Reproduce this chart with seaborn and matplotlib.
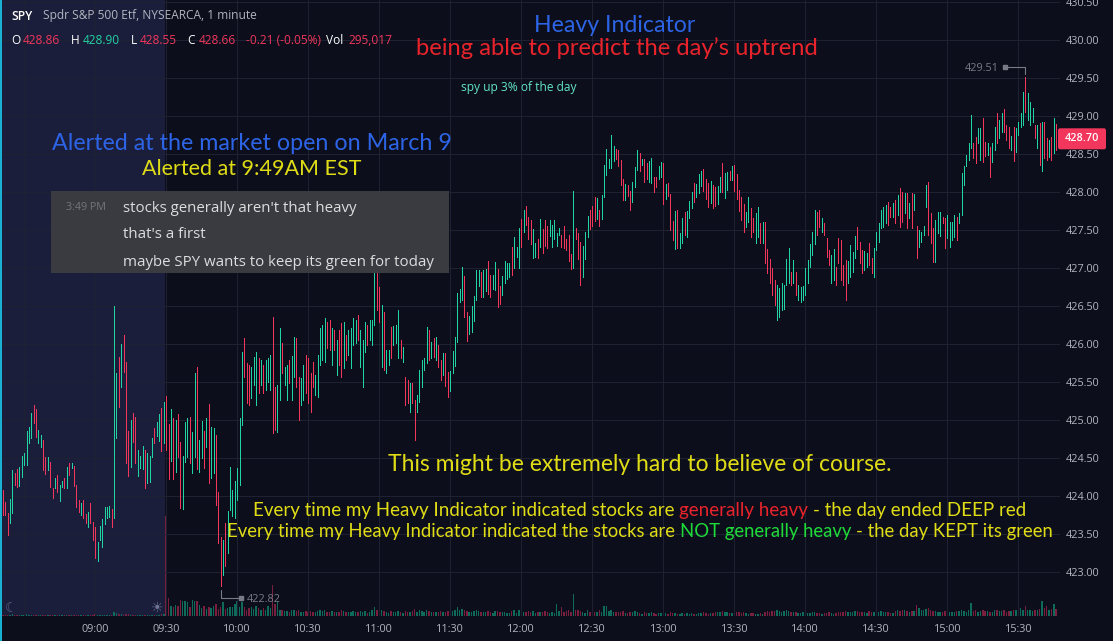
import numpy as np
import pandas as pd
import matplotlib
matplotlib.use("Agg")
import matplotlib.pyplot as plt
import seaborn as sns
from matplotlib.lines import Line2D
from matplotlib.patches import Rectangle, FancyBboxPatch
from matplotlib.transforms import IdentityTransform

# SPY 1 minute candles, one per minute starting 08:21
opens = [
    424.06, 423.90, 423.76, 423.67, 423.81, 424.28, 424.34, 424.16, 424.28, 424.44,
    424.44, 424.73, 424.79, 425.18, 425.12, 424.73, 424.67, 424.72, 424.49, 424.37,
    424.43, 424.09, 424.14, 424.26, 423.96, 424.14, 424.22, 424.14, 424.41, 424.38,
    424.37, 424.12, 423.93, 423.78, 423.93, 423.74, 423.62, 423.89, 423.64, 423.57,
    423.17, 423.45, 423.36, 423.66, 423.74, 423.75, 423.81, 423.76, 424.80, 425.80,
    425.47, 426.09, 425.72, 424.83, 424.42, 425.06, 425.01, 424.29, 424.39, 424.39,
    424.58, 424.20, 424.21, 424.54, 424.87, 424.82, 424.75, 425.13, 424.74, 425.29,
    424.92, 424.50, 425.00, 424.36, 425.05, 424.68, 423.87, 424.48, 424.55, 425.01,
    424.34, 424.55, 425.66, 424.35, 424.53, 424.83, 424.67, 425.17, 424.28, 424.34,
    424.77, 424.02, 423.43, 423.00, 423.61, 423.29, 423.86, 423.77, 423.75, 423.99,
    424.18, 424.97, 426.05, 425.72, 425.69, 425.32, 425.49, 425.24, 425.79, 425.49,
    425.69, 425.42, 425.53, 425.42, 426.30, 425.40, 424.88, 425.30, 425.98, 425.49,
    425.30, 425.76, 425.30, 425.61, 426.05, 425.54, 425.23, 425.30, 425.83, 425.79,
    425.59, 425.73, 425.36, 425.34, 425.76, 425.82, 425.80, 426.26, 426.29, 425.76,
    426.15, 425.63, 426.15, 426.25, 425.72, 426.09, 425.89, 425.72, 426.02, 426.04,
    426.35, 425.74, 425.47, 425.92, 426.22, 426.08, 426.02, 426.29, 426.90, 426.72,
    425.74, 426.39, 425.65, 425.75, 426.19, 426.02, 426.04, 425.86, 426.02, 425.79,
    425.54, 425.50, 425.14, 425.46, 425.23, 425.14, 425.28, 425.47, 425.69, 425.79,
    426.15, 425.85, 426.05, 425.82, 425.96, 425.76, 425.62, 425.85, 425.60, 425.41,
    425.65, 425.75, 426.07, 426.57, 426.62, 426.86, 426.39, 426.16, 426.19, 426.33,
    426.62, 426.79, 426.92, 426.65, 426.73, 427.06, 426.88, 426.75, 426.74, 426.96,
    426.73, 426.67, 426.83, 426.89, 426.91, 427.25, 427.04, 427.17, 427.04, 427.61,
    427.50, 427.79, 427.64, 427.60, 427.16, 427.17, 427.35, 427.31, 427.48, 427.60,
    427.52, 427.45, 427.31, 427.41, 427.32, 427.45, 427.41, 427.52, 427.36, 427.40,
    427.16, 427.04, 427.51, 427.43, 427.31, 426.92, 427.15, 427.44, 427.73, 427.79,
    427.90, 427.67, 427.73, 427.67, 427.97, 428.26, 428.34, 428.36, 428.44, 428.55,
    428.53, 428.39, 428.14, 427.92, 428.07, 427.98, 427.90, 428.10, 428.32, 428.48,
    428.37, 428.40, 428.35, 428.16, 428.15, 428.17, 428.18, 428.19, 428.22, 428.35,
    427.93, 428.10, 427.94, 427.59, 427.29, 427.73, 427.29, 427.36, 427.71, 427.44,
    427.68, 427.81, 428.09, 427.95, 428.01, 428.10, 428.27, 428.14, 428.09, 427.89,
    428.06, 428.04, 427.87, 428.03, 428.35, 427.96, 428.06, 428.26, 428.19, 428.33,
    428.21, 428.00, 427.90, 427.81, 427.57, 427.64, 427.76, 427.63, 427.36, 427.44,
    427.56, 427.36, 427.58, 427.22, 427.09, 426.97, 426.81, 426.36, 426.40, 426.48,
    426.49, 426.81, 426.84, 426.93, 426.83, 426.92, 426.61, 426.58, 426.61, 426.68,
    426.83, 427.04, 427.20, 427.36, 427.71, 427.73, 427.50, 427.57, 427.36, 427.21,
    426.84, 426.88, 426.98, 427.36, 427.34, 427.01, 427.08, 426.83, 426.92, 426.98,
    427.16, 427.51, 427.31, 427.21, 427.00, 427.04, 427.30, 427.10, 426.92, 427.27,
    427.37, 427.56, 427.57, 427.62, 427.84, 427.78, 427.70, 427.86, 427.73, 428.02,
    427.97, 427.75, 427.96, 427.69, 427.96, 427.79, 427.52, 427.31, 427.37, 427.45,
    427.83, 428.10, 427.69, 427.50, 427.12, 427.49, 427.45, 427.66, 427.63, 427.42,
    427.31, 427.40, 427.44, 427.64, 427.61, 427.74, 428.12, 428.36, 428.45, 428.62,
    428.61, 428.69, 428.67, 428.45, 428.94, 428.63, 428.51, 428.56, 428.42, 428.58,
    429.01, 428.74, 428.82, 429.06, 428.86, 428.83, 428.58, 428.83, 428.56, 428.78,
    428.89, 428.92, 429.45, 428.98, 428.92, 428.95, 428.86, 428.61, 428.88, 428.32,
    428.89, 428.68, 428.49, 428.69, 428.54, 428.86,
]
highs = [
    424.08, 423.92, 423.78, 423.96, 424.34, 424.30, 424.36, 424.38, 424.53, 424.57,
    424.86, 424.91, 425.09, 425.20, 425.14, 424.87, 424.80, 424.74, 424.51, 424.51,
    424.45, 424.11, 424.24, 424.28, 424.14, 424.20, 424.24, 424.38, 424.43, 424.43,
    424.39, 424.14, 423.95, 423.91, 423.95, 423.76, 423.79, 423.91, 423.66, 423.59,
    423.39, 423.61, 423.70, 423.86, 423.86, 423.87, 423.83, 426.50, 425.62, 425.83,
    426.00, 426.12, 425.76, 424.86, 425.00, 425.09, 425.04, 424.61, 424.53, 424.66,
    424.61, 424.57, 424.53, 424.76, 424.89, 424.97, 425.08, 425.16, 425.24, 425.32,
    424.95, 425.14, 425.03, 425.00, 425.08, 424.71, 424.53, 424.97, 425.03, 425.04,
    424.84, 425.62, 425.70, 424.74, 424.99, 424.86, 425.03, 425.21, 424.91, 424.89,
    424.80, 424.05, 423.46, 423.42, 423.64, 423.80, 424.38, 424.08, 424.20, 424.37,
    425.03, 425.89, 426.08, 425.75, 425.72, 425.70, 425.83, 425.89, 425.82, 425.79,
    425.72, 425.79, 425.82, 425.86, 426.36, 425.43, 425.46, 426.21, 426.01, 425.70,
    425.72, 425.79, 425.84, 426.09, 426.08, 425.57, 425.55, 425.72, 425.86, 425.82,
    425.62, 425.76, 425.59, 425.86, 426.21, 426.25, 426.34, 426.29, 426.32, 426.21,
    426.18, 426.05, 426.18, 426.28, 426.29, 426.12, 426.18, 426.21, 426.34, 426.32,
    426.38, 426.18, 426.05, 426.29, 426.25, 426.32, 426.32, 426.93, 426.93, 426.75,
    426.51, 426.42, 425.92, 425.92, 426.22, 426.24, 426.25, 426.45, 426.05, 425.96,
    425.57, 425.53, 425.49, 425.49, 425.26, 425.33, 425.66, 425.79, 425.82, 426.22,
    426.18, 426.03, 426.08, 426.09, 425.99, 425.79, 425.88, 425.88, 425.63, 425.64,
    425.91, 426.09, 426.67, 426.72, 427.01, 426.89, 426.42, 426.37, 426.50, 426.63,
    426.97, 426.97, 426.95, 426.97, 426.99, 427.09, 426.91, 426.91, 427.08, 426.99,
    426.76, 426.89, 427.09, 427.07, 427.07, 427.28, 427.41, 427.28, 427.53, 427.64,
    427.76, 427.82, 427.67, 427.63, 427.51, 427.33, 427.38, 427.64, 427.51, 427.63,
    427.55, 427.63, 427.57, 427.63, 427.46, 427.53, 427.43, 427.55, 427.38, 427.43,
    427.18, 428.01, 427.53, 427.46, 427.34, 427.29, 427.47, 427.68, 427.76, 427.82,
    427.93, 427.92, 427.76, 427.96, 428.36, 428.57, 428.43, 428.75, 428.61, 428.57,
    428.55, 428.42, 428.17, 428.11, 428.09, 428.01, 428.13, 428.33, 428.55, 428.51,
    428.43, 428.43, 428.38, 428.41, 428.45, 428.20, 428.20, 428.34, 428.39, 428.38,
    428.11, 428.12, 427.97, 427.62, 427.75, 427.76, 427.46, 427.66, 427.74, 427.75,
    427.88, 428.00, 428.12, 428.11, 428.24, 428.28, 428.30, 428.17, 428.12, 428.14,
    428.09, 428.07, 428.08, 428.20, 428.38, 428.25, 428.26, 428.28, 428.34, 428.36,
    428.24, 428.03, 427.93, 427.84, 427.74, 427.93, 427.79, 427.66, 427.72, 427.80,
    427.59, 427.61, 427.61, 427.25, 427.12, 427.00, 426.84, 426.78, 426.74, 426.80,
    426.78, 427.12, 427.26, 426.95, 427.11, 426.95, 426.78, 426.75, 426.76, 427.00,
    427.11, 427.32, 427.47, 427.76, 427.74, 427.76, 427.66, 427.59, 427.39, 427.24,
    427.17, 427.25, 427.01, 427.39, 427.37, 427.04, 427.11, 427.09, 427.30, 427.21,
    427.42, 427.54, 427.34, 427.24, 427.22, 427.20, 427.33, 427.13, 427.26, 427.47,
    427.59, 427.76, 427.80, 427.83, 427.87, 427.80, 427.86, 427.89, 427.96, 428.05,
    428.00, 427.99, 427.99, 427.86, 427.99, 427.97, 427.55, 427.50, 427.47, 427.55,
    428.09, 428.13, 427.72, 427.53, 427.63, 427.74, 427.74, 427.67, 427.66, 427.70,
    427.61, 427.61, 427.70, 427.67, 427.72, 428.25, 428.34, 428.49, 428.64, 429.01,
    428.64, 428.72, 428.84, 428.84, 428.97, 428.66, 428.64, 428.59, 428.64, 428.86,
    429.04, 428.95, 429.04, 429.09, 428.88, 428.86, 428.74, 428.86, 428.84, 428.92,
    429.04, 429.32, 429.51, 429.30, 429.18, 429.11, 428.88, 428.88, 428.91, 428.92,
    428.92, 428.71, 428.68, 428.72, 428.97, 428.90,
]
lows = [
    423.75, 423.75, 423.49, 423.64, 423.78, 424.14, 424.12, 424.13, 424.25, 424.41,
    424.41, 424.70, 424.76, 424.96, 424.78, 424.70, 424.64, 424.34, 424.29, 424.34,
    424.12, 423.97, 424.11, 424.05, 423.93, 424.12, 424.11, 424.11, 424.28, 424.37,
    424.13, 423.86, 423.79, 423.75, 423.71, 423.64, 423.59, 423.64, 423.42, 423.18,
    423.14, 423.42, 423.33, 423.63, 423.71, 423.72, 423.59, 423.71, 424.76, 425.17,
    425.43, 425.63, 424.43, 424.26, 424.38, 424.71, 424.43, 424.26, 424.37, 424.36,
    424.11, 424.17, 424.18, 424.51, 424.70, 424.79, 424.72, 424.59, 424.70, 424.61,
    424.22, 424.46, 424.22, 424.32, 424.51, 423.84, 423.83, 424.45, 424.51, 424.43,
    424.30, 424.51, 424.36, 424.32, 424.50, 424.37, 424.64, 424.17, 424.24, 424.30,
    423.88, 423.38, 422.82, 422.96, 423.08, 423.25, 423.82, 423.74, 423.71, 423.95,
    424.14, 424.93, 425.57, 425.22, 425.20, 425.29, 425.46, 425.20, 425.36, 425.46,
    425.36, 425.39, 425.50, 425.39, 424.83, 424.87, 424.84, 425.26, 425.62, 425.46,
    425.26, 425.49, 425.26, 425.57, 425.43, 425.00, 425.20, 425.26, 425.36, 425.22,
    425.11, 425.43, 425.33, 425.30, 425.72, 425.79, 425.76, 425.95, 425.92, 425.72,
    425.92, 425.59, 425.72, 425.57, 425.68, 425.79, 425.86, 425.68, 425.99, 426.01,
    426.05, 425.70, 425.43, 425.89, 425.99, 426.05, 425.99, 426.25, 426.45, 426.29,
    425.70, 425.66, 425.62, 425.72, 425.82, 425.99, 426.01, 425.82, 425.82, 425.76,
    425.20, 425.22, 425.11, 425.22, 424.74, 425.11, 425.24, 425.43, 425.66, 425.75,
    425.79, 425.82, 425.83, 425.79, 425.70, 425.53, 425.59, 425.45, 425.30, 425.38,
    425.62, 425.71, 426.03, 426.55, 426.58, 426.36, 426.04, 426.13, 426.16, 426.30,
    426.58, 426.76, 426.62, 426.62, 426.70, 426.66, 426.62, 426.72, 426.71, 426.49,
    426.53, 426.64, 426.80, 426.86, 426.88, 426.91, 427.00, 427.14, 427.00, 427.28,
    427.47, 427.57, 427.38, 427.32, 427.13, 427.14, 427.13, 427.28, 427.20, 427.29,
    427.26, 427.42, 427.28, 427.38, 427.29, 427.43, 427.28, 427.26, 427.24, 427.09,
    426.99, 427.00, 427.38, 427.12, 426.78, 426.88, 427.12, 427.41, 427.51, 427.55,
    427.62, 427.64, 427.55, 427.64, 427.93, 428.22, 428.32, 428.32, 428.41, 428.43,
    428.34, 428.09, 427.89, 427.89, 427.95, 427.76, 427.87, 428.07, 428.29, 428.28,
    428.36, 428.13, 428.17, 428.13, 428.12, 428.00, 428.07, 428.17, 428.20, 427.84,
    427.91, 427.95, 427.50, 427.37, 427.25, 427.26, 427.26, 427.33, 427.43, 427.41,
    427.66, 427.79, 427.87, 427.93, 427.99, 428.08, 428.01, 427.91, 427.80, 427.86,
    427.79, 427.82, 427.84, 428.00, 428.00, 427.92, 428.03, 428.16, 428.16, 428.01,
    427.91, 427.75, 427.63, 427.47, 427.54, 427.61, 427.41, 427.47, 427.33, 427.41,
    427.33, 427.33, 427.07, 426.93, 426.80, 426.64, 426.51, 426.32, 426.36, 426.45,
    426.46, 426.78, 426.80, 426.78, 426.80, 426.64, 426.58, 426.55, 426.58, 426.64,
    426.80, 427.01, 427.17, 427.32, 427.43, 427.54, 427.47, 427.43, 427.14, 427.04,
    426.80, 426.84, 426.78, 427.07, 426.84, 426.78, 426.58, 426.80, 426.88, 426.95,
    427.13, 427.25, 427.07, 426.93, 426.97, 427.01, 427.04, 426.93, 426.88, 427.24,
    427.34, 427.53, 427.54, 427.59, 427.57, 427.67, 427.67, 427.59, 427.70, 427.54,
    427.61, 427.72, 427.53, 427.66, 427.53, 427.76, 427.13, 427.28, 427.34, 427.43,
    427.80, 427.43, 427.33, 427.08, 427.08, 427.46, 427.42, 427.59, 427.26, 427.39,
    427.28, 427.37, 427.41, 427.37, 427.59, 427.70, 428.09, 428.34, 428.42, 428.58,
    428.45, 428.38, 428.64, 428.42, 428.39, 428.47, 428.49, 428.20, 428.39, 428.55,
    428.64, 428.71, 428.79, 428.79, 428.68, 428.58, 428.55, 428.41, 428.53, 428.75,
    428.86, 428.88, 429.05, 428.95, 428.88, 428.92, 428.71, 428.58, 428.36, 428.28,
    428.45, 428.42, 428.46, 428.42, 428.51, 428.55,
]
closes = [
    423.78, 423.78, 423.52, 423.94, 424.32, 424.17, 424.15, 424.36, 424.51, 424.55,
    424.84, 424.89, 425.07, 424.99, 424.81, 424.85, 424.78, 424.37, 424.32, 424.49,
    424.15, 424.00, 424.22, 424.08, 424.12, 424.18, 424.14, 424.36, 424.31, 424.42,
    424.16, 423.89, 423.82, 423.89, 423.74, 423.67, 423.77, 423.67, 423.45, 423.21,
    423.37, 423.59, 423.68, 423.84, 423.84, 423.85, 423.62, 425.40, 425.58, 425.20,
    425.97, 425.66, 424.47, 424.30, 424.97, 424.74, 424.46, 424.58, 424.51, 424.63,
    424.14, 424.54, 424.50, 424.73, 424.73, 424.95, 425.05, 424.62, 425.21, 424.65,
    424.26, 425.11, 424.26, 424.97, 424.55, 423.88, 424.50, 424.94, 425.00, 424.47,
    424.81, 425.58, 424.40, 424.71, 424.96, 424.40, 425.00, 424.21, 424.88, 424.86,
    423.92, 423.42, 422.90, 423.39, 423.12, 423.77, 424.35, 424.05, 424.17, 424.34,
    425.00, 425.85, 425.60, 425.26, 425.24, 425.67, 425.80, 425.86, 425.39, 425.76,
    425.39, 425.76, 425.79, 425.83, 424.90, 424.91, 425.43, 426.17, 425.65, 425.67,
    425.69, 425.52, 425.81, 426.06, 425.47, 425.04, 425.52, 425.69, 425.39, 425.26,
    425.14, 425.46, 425.56, 425.83, 426.18, 426.22, 426.31, 425.98, 425.95, 426.18,
    425.95, 426.02, 425.76, 425.61, 426.26, 425.82, 426.15, 426.18, 426.31, 426.29,
    426.08, 426.15, 426.02, 426.26, 426.02, 426.29, 426.29, 426.89, 426.49, 426.32,
    426.48, 425.70, 425.89, 425.89, 425.85, 426.21, 426.22, 426.42, 425.85, 425.93,
    425.24, 425.26, 425.46, 425.26, 424.78, 425.30, 425.63, 425.76, 425.79, 426.19,
    425.82, 426.00, 425.86, 426.06, 425.73, 425.56, 425.85, 425.48, 425.33, 425.61,
    425.88, 426.06, 426.63, 426.70, 426.98, 426.40, 426.07, 426.34, 426.47, 426.60,
    426.94, 426.94, 426.65, 426.94, 426.96, 426.69, 426.65, 426.88, 427.05, 426.53,
    426.56, 426.86, 427.06, 427.04, 427.04, 426.95, 427.38, 427.26, 427.50, 427.32,
    427.73, 427.60, 427.42, 427.36, 427.48, 427.30, 427.16, 427.61, 427.24, 427.33,
    427.30, 427.60, 427.54, 427.60, 427.43, 427.51, 427.31, 427.30, 427.27, 427.13,
    427.02, 427.80, 427.41, 427.16, 426.83, 427.26, 427.44, 427.65, 427.54, 427.58,
    427.65, 427.89, 427.58, 427.93, 428.33, 428.54, 428.41, 428.72, 428.58, 428.46,
    428.37, 428.13, 427.93, 428.08, 427.97, 427.79, 428.10, 428.30, 428.52, 428.31,
    428.42, 428.16, 428.20, 428.38, 428.42, 428.03, 428.09, 428.32, 428.37, 427.88,
    428.09, 427.97, 427.54, 427.40, 427.72, 427.30, 427.43, 427.63, 427.47, 427.72,
    427.85, 427.97, 427.90, 428.08, 428.21, 428.26, 428.04, 427.94, 427.84, 428.11,
    427.83, 427.85, 428.05, 428.17, 428.04, 428.22, 428.23, 428.18, 428.32, 428.05,
    427.95, 427.79, 427.67, 427.51, 427.71, 427.90, 427.45, 427.50, 427.69, 427.77,
    427.36, 427.58, 427.11, 426.97, 426.84, 426.68, 426.55, 426.74, 426.71, 426.77,
    426.75, 427.09, 427.23, 426.80, 427.08, 426.68, 426.75, 426.72, 426.73, 426.97,
    427.08, 427.29, 427.44, 427.73, 427.47, 427.57, 427.63, 427.46, 427.18, 427.07,
    427.14, 427.22, 426.81, 427.11, 426.88, 426.81, 426.62, 427.06, 427.27, 427.18,
    427.39, 427.29, 427.11, 426.97, 427.19, 427.17, 427.08, 426.96, 427.23, 427.44,
    427.56, 427.73, 427.77, 427.80, 427.60, 427.69, 427.83, 427.62, 427.93, 427.58,
    427.64, 427.96, 427.57, 427.83, 427.57, 427.94, 427.17, 427.47, 427.45, 427.53,
    428.06, 427.47, 427.37, 427.12, 427.60, 427.71, 427.71, 427.60, 427.30, 427.67,
    427.58, 427.58, 427.67, 427.41, 427.70, 428.22, 428.31, 428.46, 428.61, 428.98,
    428.47, 428.41, 428.81, 428.81, 428.43, 428.50, 428.62, 428.24, 428.61, 428.83,
    428.68, 428.92, 429.01, 428.83, 428.71, 428.62, 428.71, 428.45, 428.81, 428.90,
    429.01, 429.28, 429.10, 429.27, 429.15, 429.08, 428.74, 428.85, 428.40, 428.89,
    428.49, 428.45, 428.65, 428.45, 428.94, 428.66,
]
# volume per minute, thousands of shares
volumes = [
    12, 9, 15, 11, 18, 8, 10, 13, 9, 14,
    16, 10, 12, 9, 11, 8, 7, 13, 10, 9,
    12, 8, 7, 10, 9, 6, 8, 11, 7, 6,
    9, 12, 10, 8, 11, 7, 9, 10, 14, 17,
    12, 9, 11, 8, 7, 6, 9, 38, 26, 22,
    18, 15, 24, 17, 13, 12, 15, 11, 9, 10,
    13, 11, 9, 12, 10, 14, 12, 16, 18, 1000,
    179, 100, 93, 110, 100, 160, 146, 153, 136, 93,
    160, 146, 150, 107, 82, 100, 71, 93, 82, 100,
    118, 71, 93, 136, 71, 82, 93, 89, 118, 146,
    93, 136, 93, 64, 82, 93, 71, 100, 82, 64,
    82, 64, 100, 82, 310, 125, 146, 64, 57, 46,
    50, 43, 57, 64, 46, 64, 39, 43, 50, 36,
    54, 43, 36, 46, 57, 50, 64, 43, 39, 46,
    36, 43, 39, 57, 46, 36, 39, 43, 50, 36,
    43, 46, 39, 50, 32, 36, 57, 93, 64, 46,
    64, 54, 39, 32, 46, 36, 43, 50, 36, 32,
    54, 43, 39, 46, 71, 43, 57, 50, 36, 64,
    46, 39, 36, 43, 39, 46, 36, 43, 50, 39,
    46, 57, 89, 64, 71, 57, 46, 36, 43, 50,
    64, 46, 43, 39, 36, 50, 43, 32, 46, 54,
    39, 36, 43, 32, 29, 50, 57, 32, 64, 46,
    43, 39, 46, 36, 50, 29, 36, 43, 39, 46,
    36, 32, 39, 29, 118, 46, 93, 36, 46, 64,
    43, 218, 64, 57, 54, 39, 29, 57, 36, 43,
    36, 39, 57, 39, 100, 100, 46, 64, 43, 36,
    39, 43, 46, 32, 29, 36, 39, 46, 43, 32,
    25, 36, 29, 32, 39, 29, 25, 32, 29, 43,
    29, 25, 36, 32, 29, 25, 22, 29, 25, 32,
    25, 29, 22, 25, 29, 32, 36, 29, 25, 29,
    32, 36, 39, 43, 46, 39, 36, 29, 32, 36,
    43, 39, 32, 36, 29, 25, 32, 29, 25, 22,
    29, 25, 39, 46, 43, 50, 54, 57, 46, 43,
    50, 64, 46, 39, 36, 43, 32, 29, 36, 39,
    32, 29, 36, 39, 32, 29, 25, 29, 32, 36,
    29, 25, 32, 36, 39, 43, 46, 39, 36, 43,
    46, 50, 43, 39, 36, 32, 46, 43, 36, 39,
    43, 46, 39, 36, 43, 29, 32, 46, 57, 50,
    64, 57, 46, 43, 54, 50, 110, 80, 57, 60,
    75, 85, 65, 50, 55, 43, 39, 36, 46, 43,
    39, 36, 43, 46, 50, 57, 46, 43, 64, 127,
    46, 57, 43, 50, 64, 46, 50, 43, 39, 57,
    64, 46, 50, 57, 43, 46, 50, 64, 57, 71,
    85, 64, 100, 60, 57, 46, 64, 57, 71, 150,
    85, 100, 64, 75, 125, 75,
]

first_minute = "2022-03-09 08:21"
session_open = "09:30"
time_labels = ["09:00", "09:30", "10:00", "10:30", "11:00", "11:30", "12:00",
               "12:30", "13:00", "13:30", "14:00", "14:30", "15:00", "15:30"]
price_levels = [423.00, 423.50, 424.00, 424.50, 425.00, 425.50, 426.00, 426.50,
                427.00, 427.50, 428.00, 428.50, 429.00, 429.50, 430.00, 430.50]
last_price = 428.70
day_change = "-0.21 (-0.05%)"
day_volume = "295,017"

n = len(closes)
assert len(opens) == len(highs) == len(lows) == len(volumes) == n, \
    (len(opens), len(highs), len(lows), n, len(volumes))

# ---- colours / canvas
BG = "#0c0f1b"
PRE = "#1b1e3b"
GRID = "#1d2132"
UP, DN = "#22d3a4", "#f2365c"
VUP, VDN = "#0e6a59", "#7b1f3e"
AXTXT = "#b2b5be"
BLUE, TRED, YEL, NGRN, TEAL = "#2d64e6", "#e8232b", "#e0dc16", "#1fdb3a", "#62e3c6"
MARK = "#787b86"

W, H, DPI = 1113, 641, 100
PLOT_R, PLOT_B = 1060, 616
PX_MIN, PX_USD = 2.367, 76.0
XLIM = ((0 - 0.5) / PX_MIN, (PLOT_R - 0.5) / PX_MIN)
YLIM = (430 - (PLOT_B - 40) / PX_USD, 430 + 40 / PX_USD)

sns.set_theme(style="dark")
plt.rcParams["font.family"] = ["Open Sans", "DejaVu Sans"]

day0 = pd.Timestamp(first_minute) - pd.Timedelta(minutes=1)


def minutes(hhmm):
    return (pd.Timestamp(f"{day0.date()} {hhmm}") - day0).total_seconds() / 60


times = pd.date_range(first_minute, periods=n, freq="min")
t = np.array([(x - day0).total_seconds() / 60 for x in times])
o, h, l, c = map(np.array, (opens, highs, lows, closes))
up = c >= o
cols = np.where(up, UP, DN)

fig = plt.figure(figsize=(W / DPI, H / DPI), dpi=DPI, facecolor=BG)
ax = fig.add_axes([0, 1 - PLOT_B / H, PLOT_R / W, PLOT_B / H])
axv = ax.twinx()
ax.set_zorder(axv.get_zorder() + 1)
ax.patch.set_visible(False)

# pre-market shading and volume underneath
axv.axvspan(XLIM[0] - 2, minutes(session_open) - 0.5, color=PRE, lw=0, zorder=0)
vol_df = pd.DataFrame({"t": t, "volume": volumes, "side": np.where(up, "up", "down")})
sns.barplot(data=vol_df, x="t", y="volume", hue="side", palette={"up": VUP, "down": VDN},
            native_scale=True, dodge=False, width=0.6, errorbar=None, saturation=1,
            legend=False, linewidth=0, ax=axv, zorder=1)
axv.set_ylim(0, PLOT_B * 10)
axv.set_yticks([])
axv.set_xlabel("")
axv.set_ylabel("")
axv.grid(False)

# candles: one crisp pixel wide, body no wider than the wick at this zoom
ax.vlines(t, l, h, colors=cols, lw=0.6, zorder=3, antialiased=False)

R = fig.canvas.get_renderer()
UI = ["Open Sans", "DejaVu Sans"]
LATO = ["Lato", "DejaVu Sans"]
NARROW = ["Liberation Sans Narrow", "Lato", "DejaVu Sans"]


def text_w(s, size, family, weight="normal"):
    tt = fig.text(0, 0, s, fontsize=size, family=family, weight=weight)
    w = tt.get_window_extent(R).width
    tt.remove()
    return w


def put(s, x, base, size, color, family, weight="normal", ha="left", z=6):
    return fig.text(x / W, 1 - base / H, s, fontsize=size, color=color, family=family,
                    weight=weight, ha=ha, va="baseline", zorder=z)


def fitted(parts, x0, x1, base, family, weight="normal"):
    full = "".join(s for s, _ in parts)
    size = 10 * (x1 - x0) / text_w(full, 10, family, weight)
    done = ""
    for s, col in parts:
        lead = s[:len(s) - len(s.lstrip())]
        pre = done + lead
        off = 0
        if pre:
            off = text_w(pre + "x", size, family, weight) - text_w("x", size, family, weight)
        put(s.lstrip(), x0 + off, base, size, col, family, weight)
        done += s
    return size


tick_size = 10 * 34 / text_w("430.00", 10, UI)

ax.set_xticks([minutes("08:30")] + [minutes(s) for s in time_labels])
ax.set_xticklabels([""] + time_labels)
ax.set_yticks(price_levels)
ax.set_yticklabels([f"{p:.2f}" for p in price_levels])
ax.yaxis.tick_right()
ax.grid(True, color=GRID, lw=0.75)
ax.set_axisbelow(True)
ax.tick_params(length=0, colors=AXTXT, labelsize=tick_size)
ax.tick_params(axis="x", pad=6)
ax.tick_params(axis="y", pad=4.3)
for a in (ax, axv):
    for sp in a.spines.values():
        sp.set_visible(False)
ax.set_xlim(XLIM)
ax.set_ylim(YLIM)

# left cyan edge
fig.add_artist(Line2D([0.6 / W, 0.6 / W], [0, 1], transform=fig.transFigure,
                      color="#19b5d6", lw=1.4, zorder=7))


def disp(tx, py):
    x, y = ax.transData.transform((tx, py))
    return x, H - y


def pline(xs, ys, **kw):
    fig.add_artist(Line2D(xs, [H - y for y in ys], transform=IdentityTransform(), **kw))


# day high / low markers
ih = int(np.argmax(h))
xh, yh = disp(t[ih], h[ih])
pline([xh, xh, xh - 20], [yh - 3, yh - 10, yh - 10], color=MARK, lw=0.8, zorder=6)
pline([xh - 20], [yh - 10], color=MARK, marker="s", ms=2.5, lw=0, zorder=6)
put(f"{h[ih]:.2f}", xh - 27, yh - 6, tick_size, MARK, UI, ha="right")
il = int(np.argmin(l))
xl, yl = disp(t[il], l[il])
pline([xl, xl, xl + 20], [yl + 4, yl + 12, yl + 12], color=MARK, lw=0.8, zorder=6)
pline([xl + 20], [yl + 12], color=MARK, marker="s", ms=2.5, lw=0, zorder=6)
put(f"{l[il]:.2f}", xl + 26, yl + 16, tick_size, MARK, UI)

# last price tag on the price scale
_, yp = disp(t[-1], last_price)
fig.add_artist(FancyBboxPatch((1058, H - yp - 10.5), 48, 21,
                              boxstyle="round,pad=0,rounding_size=2",
                              transform=IdentityTransform(), fc=DN, ec="none", zorder=6))
fig.text(1082 / W, 1 - yp / H, f"{last_price:.2f}", color="white", fontsize=tick_size,
         ha="center", va="center", weight="semibold", zorder=7)

# session icons
fig.text(11 / W, 1 - 608 / H, "\u263e", color="#5b6185", fontsize=10, ha="center",
         va="center", family=["DejaVu Sans"], zorder=6)
fig.text(157 / W, 1 - 608 / H, "\u2600", color="#6f7596", fontsize=10, ha="center",
         va="center", family=["DejaVu Sans"], zorder=6)

# header / legend
fitted([("SPY", "#ffffff")], 11, 32, 19.5, UI, weight="semibold")
fitted([("Spdr S&P 500 Etf, NYSEARCA, 1 minute", AXTXT)], 43, 256, 19.5, UI)
hs = 10 * 37 / text_w("428.86", 10, UI)
legend_row = [("O", 11, "#ffffff"), (f"{o[-1]:.2f}", 23, DN),
              ("H", 70.5, "#ffffff"), (f"{h[-1]:.2f}", 83, UP),
              ("L", 130.5, "#ffffff"), (f"{l[-1]:.2f}", 140, DN),
              ("C", 187, "#ffffff"), (f"{c[-1]:.2f}", 199, DN),
              (day_change, 246, DN), ("Vol", 326, "#ffffff"), (day_volume, 348, DN)]
for s, x, col in legend_row:
    put(s, x, 44, hs, col, UI)

# annotations
fitted([("Heavy Indicator", BLUE)], 534, 695, 31.5, LATO)
fitted([("being able to predict the day\u2019s uptrend", TRED)], 416, 819, 55, LATO)
fitted([("spy up 3% of the day", TEAL)], 461, 577, 91, UI)
fitted([("Alerted at the market open on March 9", BLUE)], 52, 451, 150, LATO)
fitted([("Alerted at 9:49AM EST", YEL)], 142, 361, 175, LATO)

fig.add_artist(Rectangle((51 / W, 1 - 273 / H), 398 / W, 82 / H, transform=fig.transFigure,
                         fc="#393b40", ec="none", zorder=5))
fitted([("3:49 PM", "#72767d")], 66, 106, 210, UI)
ms = fitted([("stocks generally aren't that heavy", "#dcddde")], 123, 357, 211.5, UI)
put("that's a first", 123, 238.5, ms, "#dcddde", UI)
put("maybe SPY wants to keep its green for today", 123, 265.5, ms, "#dcddde", UI)

fitted([("This might be extremely hard to believe of course.", YEL)], 388, 892, 471, NARROW)
fitted([("Every time my Heavy Indicator indicated stocks are ", YEL), ("generally heavy", TRED),
        (" - the day ended DEEP red", YEL)], 253, 1028, 516, NARROW)
fitted([("Every time my Heavy Indicator indicated the stocks are ", YEL),
        ("NOT generally heavy", NGRN), (" - the day KEPT its green", YEL)], 227, 1053, 536.5, NARROW)

fig.savefig("out.png", dpi=DPI, facecolor=BG)
